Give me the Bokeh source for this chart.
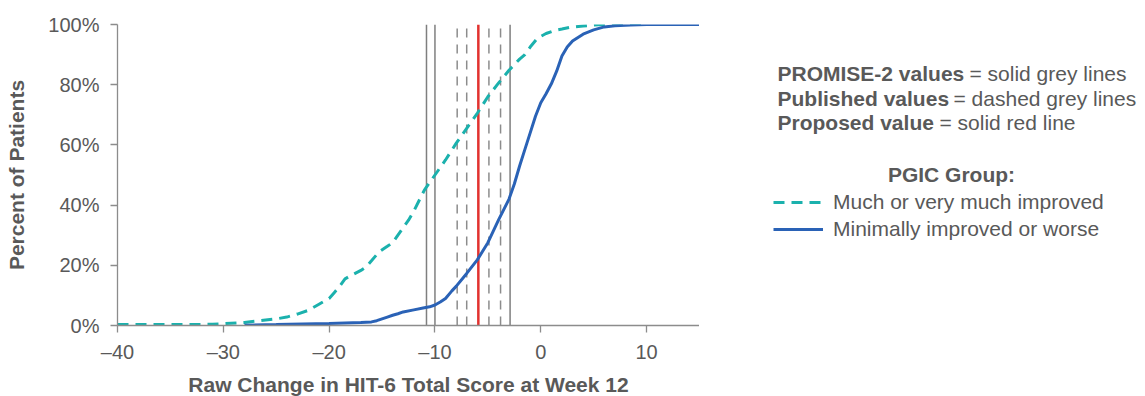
from bokeh.plotting import figure
from bokeh.layouts import row
from bokeh.models import Range1d, FixedTicker, Legend, LegendItem, PrintfTickFormatter
from bokeh.core.properties import value
from bokeh.embed import file_html
from bokeh.resources import INLINE

# ---- data ----
much_x = [-40, -35, -31, -30, -28, -26, -25, -24, -23, -22, -21, -20, -19.5, -19, -18.5, -18,
          -17, -16.5, -16, -15.3, -14.5, -14, -13.5, -13, -12.5, -12, -11, -10, -9, -8, -7,
          -6, -5, -4, -3, -2, -1.5, -1, -0.3, 0.5, 1.3, 2, 2.8, 4, 5, 6, 8, 10]
much_y = [0.3, 0.3, 0.4, 0.6, 1.0, 1.8, 2.2, 2.8, 3.8, 5.0, 7.0, 9.0, 11.0, 13.0, 15.5, 16.5,
          18.3, 19.5, 21.5, 24.4, 26.3, 27.5, 30.0, 32.5, 35.0, 38.0, 45.0, 50.0, 55.0, 60.5, 65.5,
          70.5, 76.0, 80.5, 84.8, 88.5, 90.0, 92.5, 95.5, 97.0, 98.0, 98.5, 99.1, 99.5, 99.8, 100, 100, 100]

min_x = [-28, -25, -20, -17, -16, -15.5, -15, -14.5, -14, -13.5, -13, -12, -11, -10.5, -10,
         -9.5, -9, -8.4, -8, -7, -6, -5, -4, -3, -2.5, -2, -1.5, -1, -0.5, 0, 0.5, 1, 1.5, 2,
         2.5, 3, 4, 5, 6, 7, 8.5, 10, 15]
min_y = [0.1, 0.3, 0.7, 1.0, 1.2, 1.6, 2.2, 2.8, 3.4, 3.9, 4.5, 5.2, 5.9, 6.2, 6.8,
         7.8, 9.0, 11.5, 13.0, 17.3, 21.8, 27.5, 35.0, 42.0, 47.0, 53.0, 58.5, 64.0, 69.5, 74.0, 77.0, 80.3, 84.5, 89.5,
         92.5, 94.5, 96.8, 98.2, 99.2, 99.6, 99.8, 100, 100]

promise2_values = [-10.8, -10.0, -2.9]
published_values = [-7.9, -7.0, -4.9, -3.8]
proposed_value = [-5.9]

x_ticks = [-40, -30, -20, -10, 0, 10]
x_tick_labels = ["\u201340", "\u201330", "\u201320", "\u201310", "0", "10"]
y_ticks = [0, 20, 40, 60, 80, 100]

series_labels = ["Much or very much improved", "Minimally improved or worse"]
note_bold = ["PROMISE-2 values", "Published values", "Proposed value"]
note_rest = ["= solid grey lines", "= dashed grey lines", "= solid red line"]
legend_title = "PGIC Group:"

# ---- style ----
FONT = "Liberation Sans"
TXT = "#595959"
AXC = "#8C8C8C"
TEAL = "#1BB1AD"
BLUE = "#2A62B6"
RED = "#E2322F"
W, H = 1144, 395
MAIN_W = 699
F_TOP, F_BOT = 24, 325

p = figure(frame_width=582, frame_height=F_BOT - F_TOP,
           min_border_left=117, min_border_right=0, min_border_top=F_TOP, min_border_bottom=H - F_BOT,
           x_range=Range1d(-40, 15), y_range=Range1d(0, 100),
           output_backend="svg", toolbar_location=None)
p.outline_line_color = None
p.xgrid.visible = False
p.ygrid.visible = False

# vertical reference lines
p.segment(x0=promise2_values, x1=promise2_values, y0=[0] * len(promise2_values), y1=[100] * len(promise2_values),
          line_color="#7F7F7F", line_width=1.5)
p.segment(x0=published_values, x1=published_values, y0=[0] * len(published_values), y1=[100] * len(published_values),
          line_color="#8C8C8C", line_width=1.5, line_dash="9 7")
p.segment(x0=proposed_value, x1=proposed_value, y0=[0], y1=[100], line_color=RED, line_width=2.5)

p.line(much_x, much_y, line_color=TEAL, line_width=3, line_dash="11 7")
p.line(min_x, min_y, line_color=BLUE, line_width=3)

# axes
for ax in (p.xaxis[0], p.yaxis[0]):
    ax.axis_line_color = AXC
    ax.axis_line_width = 1.3
    ax.major_tick_line_color = AXC
    ax.major_tick_line_width = 1.3
    ax.major_tick_out = 7
    ax.major_tick_in = 0
    ax.minor_tick_line_color = None
    ax.major_label_text_font = FONT
    ax.major_label_text_font_size = "20px"
    ax.major_label_text_color = TXT
    ax.axis_label_text_font = FONT
    ax.axis_label_text_font_size = "21px"
    ax.axis_label_text_font_style = "bold"
    ax.axis_label_text_color = TXT

p.xaxis.ticker = FixedTicker(ticks=x_ticks)
p.xaxis.major_label_overrides = {t: s for t, s in zip(x_ticks, x_tick_labels)}
p.xaxis.major_label_standoff = 8
p.xaxis.axis_label = "Raw Change in HIT-6 Total Score at Week 12"
p.xaxis.axis_label_standoff = 7

p.yaxis.ticker = FixedTicker(ticks=y_ticks)
p.yaxis.formatter = PrintfTickFormatter(format="%d%%")
p.yaxis.major_label_standoff = 11
p.yaxis.axis_label = "Percent of Patients"
p.yaxis.axis_label_standoff = 17

# ---- side panel with notes and legend (page-pixel coordinates, y downward) ----
SW = W - MAIN_W
q = figure(frame_width=SW, frame_height=F_BOT - F_TOP,
           min_border_left=0, min_border_right=0, min_border_top=F_TOP, min_border_bottom=H - F_BOT,
           title=None, x_axis_type=None, y_axis_type=None,
           x_range=Range1d(MAIN_W, W), y_range=Range1d(F_BOT, F_TOP),
           output_backend="svg", toolbar_location=None)
q.outline_line_color = None
q.grid.visible = False

base_y = [73, 97.5, 122]
q.text(x=[777] * 3, y=base_y, text=note_bold, text_font=value(FONT), text_font_size="21px",
       text_font_style="bold", text_color=TXT, text_baseline="alphabetic", text_align="left")
q.text(x=[969, 953, 939], y=base_y, text=note_rest, text_font=value(FONT), text_font_size="21px",
       text_color=TXT, text_baseline="alphabetic", text_align="left")
q.text(x=[951], y=[174], text=[legend_title], text_font=value(FONT), text_font_size="21px",
       text_font_style="bold", text_color=TXT, text_baseline="alphabetic", text_align="center")

# legend key renderers (placed outside the visible panel range; only their style is used)
k_much = q.line([0, 1], [0, 0], line_color=TEAL, line_width=3, line_dash="11 7")
k_min = q.line([0, 1], [0, 0], line_color=BLUE, line_width=3)
legend = Legend(items=[LegendItem(label=series_labels[0], renderers=[k_much]),
                       LegendItem(label=series_labels[1], renderers=[k_min])],
                location=(773 - MAIN_W, F_BOT - 241), orientation="vertical",
                glyph_width=50, glyph_height=24, label_height=24, spacing=3,
                padding=0, margin=0, label_standoff=10,
                label_text_font=FONT, label_text_font_size="21px", label_text_color=TXT,
                border_line_alpha=0, background_fill_alpha=0)
q.add_layout(legend, "center")

layout = row(p, q, spacing=0)
open("out.html", "w").write(file_html(layout, INLINE))
